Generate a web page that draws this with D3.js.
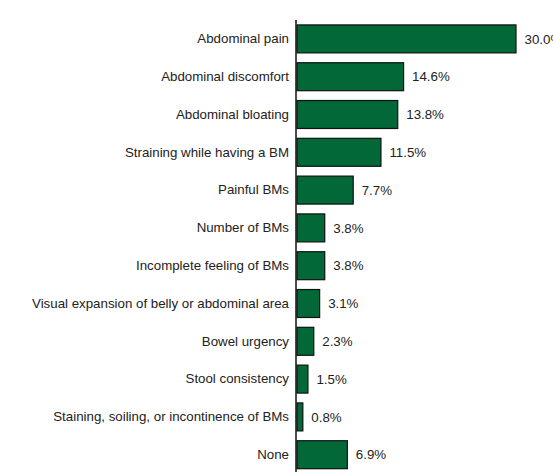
<!DOCTYPE html>
<html>
<head>
<meta charset="utf-8">
<script src="https://cdn.jsdelivr.net/npm/d3@7"></script>
<style>
  body { margin: 0; background: #fff; }
  text { font-family: "Liberation Sans", Arial, sans-serif; }
</style>
</head>
<body>
<div id="chart"></div>
<script>
// data
const categories = [
  "Abdominal pain",
  "Abdominal discomfort",
  "Abdominal bloating",
  "Straining while having a BM",
  "Painful BMs",
  "Number of BMs",
  "Incomplete feeling of BMs",
  "Visual expansion of belly or abdominal area",
  "Bowel urgency",
  "Stool consistency",
  "Staining, soiling, or incontinence of BMs",
  "None"
];
const values = [30.0, 14.6, 13.8, 11.5, 7.7, 3.8, 3.8, 3.1, 2.3, 1.5, 0.8, 6.9];

const width = 553, height = 472;
const axisX = 297, axisTop = 20;
const barColor = "#036837";
const fontSize = 13.3;

const svg = d3.select('#chart').append('svg')
  .attr('width', width)
  .attr('height', height);

const x = d3.scaleLinear()
  .domain([0, 30])
  .range([axisX, 516]);

const y = d3.scaleBand()
  .domain(categories)
  .range([axisTop, axisTop + 12 * 37.8])
  .paddingInner(0.26)
  .paddingOuter(0.13);

// bars
svg.append('g')
  .selectAll('rect')
  .data(values)
  .enter().append('rect')
  .attr('x', x(0))
  .attr('y', (d, i) => y(categories[i]))
  .attr('width', d => x(d) - x(0))
  .attr('height', y.bandwidth())
  .attr('fill', barColor)
  .attr('stroke', '#111')
  .attr('stroke-width', 1.2);

// value labels
svg.append('g')
  .selectAll('text')
  .data(values)
  .enter().append('text')
  .attr('x', d => x(d) + 8.5)
  .attr('y', (d, i) => y(categories[i]) + y.bandwidth() / 2)
  .attr('dy', '0.35em')
  .attr('font-size', fontSize)
  .attr('fill', '#222')
  .text(d => d.toFixed(1) + '%');

// category axis
const yAxis = svg.append('g')
  .attr('transform', `translate(${axisX - 1},0)`)
  .call(d3.axisLeft(y).tickSize(0).tickPadding(7));

yAxis.select('.domain').remove();
yAxis.selectAll('text')
  .attr('font-size', fontSize)
  .attr('fill', '#222')
  .style('font-family', '"Liberation Sans", Arial, sans-serif');

svg.append('line')
  .attr('x1', axisX - 1).attr('x2', axisX - 1)
  .attr('y1', axisTop).attr('y2', height)
  .attr('stroke', '#111')
  .attr('stroke-width', 1.5);
</script>
</body>
</html>
